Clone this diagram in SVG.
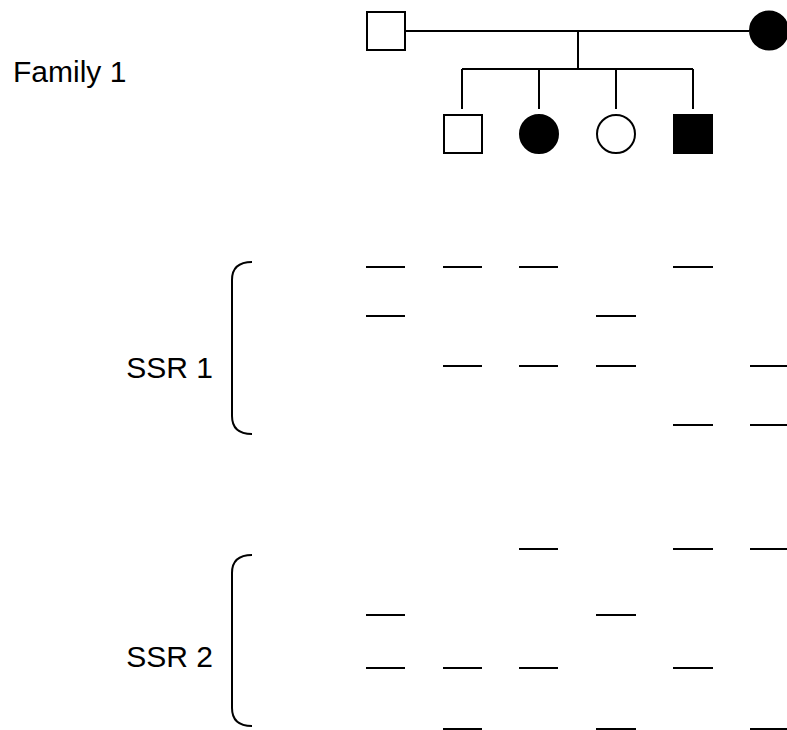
<svg xmlns="http://www.w3.org/2000/svg" width="787" height="730" viewBox="0 0 787 730">
  <style>
    .ln { stroke: #000; stroke-width: 2; fill: none; }
    .open { fill: #fff; stroke: #000; stroke-width: 2; }
    .aff { fill: #000; stroke: #000; stroke-width: 2; }
    .band { stroke: #000; stroke-width: 2; }
    .lbl { font-family: "Liberation Sans", Arial, sans-serif; font-size: 30px; fill: #000; }
  </style>
  <rect width="787" height="730" fill="#fff"/>

  <text class="lbl" x="13" y="82">Family 1</text>

  <!-- pedigree lines -->
  <g id="connectors">
    <line class="ln" x1="405" y1="31" x2="749" y2="31"/>
    <line class="ln" x1="578" y1="31" x2="578" y2="69"/>
    <line class="ln" x1="462" y1="69" x2="693" y2="69"/>
    <line class="ln" x1="462" y1="69" x2="462" y2="109"/>
    <line class="ln" x1="539" y1="69" x2="539" y2="109"/>
    <line class="ln" x1="616" y1="69" x2="616" y2="109"/>
    <line class="ln" x1="693" y1="69" x2="693" y2="109"/>
  </g>

  <g id="father"><rect class="open" x="367" y="12" width="38" height="38"/></g>
  <g id="mother"><circle class="aff" cx="769" cy="30.5" r="19"/></g>
  <g id="son1"><rect class="open" x="444" y="115" width="38" height="38"/></g>
  <g id="daughter1"><circle class="aff" cx="539" cy="134" r="19"/></g>
  <g id="daughter2"><circle class="open" cx="616" cy="134" r="19"/></g>
  <g id="son2"><rect class="aff" x="674" y="115" width="38" height="38"/></g>

  <!-- SSR 1 -->
  <g id="ssr1">
    <text class="lbl" x="213" y="378" text-anchor="end">SSR 1</text>
    <path class="ln" d="M252,262 C238,262 232,268 232,280 V416 C232,428 238,434 252,434"/>
    <g class="band">
      <line x1="366" y1="267" x2="405" y2="267"/>
      <line x1="443" y1="267" x2="482" y2="267"/>
      <line x1="519" y1="267" x2="558" y2="267"/>
      <line x1="673" y1="267" x2="713" y2="267"/>

      <line x1="366" y1="316" x2="405" y2="316"/>
      <line x1="596" y1="316" x2="636" y2="316"/>

      <line x1="443" y1="366" x2="482" y2="366"/>
      <line x1="519" y1="366" x2="558" y2="366"/>
      <line x1="596" y1="366" x2="636" y2="366"/>
      <line x1="750" y1="366" x2="789" y2="366"/>

      <line x1="673" y1="425" x2="713" y2="425"/>
      <line x1="750" y1="425" x2="789" y2="425"/>
    </g>
  </g>

  <!-- SSR 2 -->
  <g id="ssr2">
    <text class="lbl" x="213" y="667" text-anchor="end">SSR 2</text>
    <path class="ln" d="M252,555 C238,555 232,561 232,573 V708 C232,720 238,726 252,726"/>
    <g class="band">
      <line x1="519" y1="549" x2="558" y2="549"/>
      <line x1="673" y1="549" x2="713" y2="549"/>
      <line x1="750" y1="549" x2="789" y2="549"/>

      <line x1="366" y1="615" x2="405" y2="615"/>
      <line x1="596" y1="615" x2="636" y2="615"/>

      <line x1="366" y1="668" x2="405" y2="668"/>
      <line x1="443" y1="668" x2="482" y2="668"/>
      <line x1="519" y1="668" x2="558" y2="668"/>
      <line x1="673" y1="668" x2="713" y2="668"/>

      <line x1="443" y1="729" x2="482" y2="729"/>
      <line x1="596" y1="729" x2="636" y2="729"/>
      <line x1="750" y1="729" x2="789" y2="729"/>
    </g>
  </g>
</svg>
